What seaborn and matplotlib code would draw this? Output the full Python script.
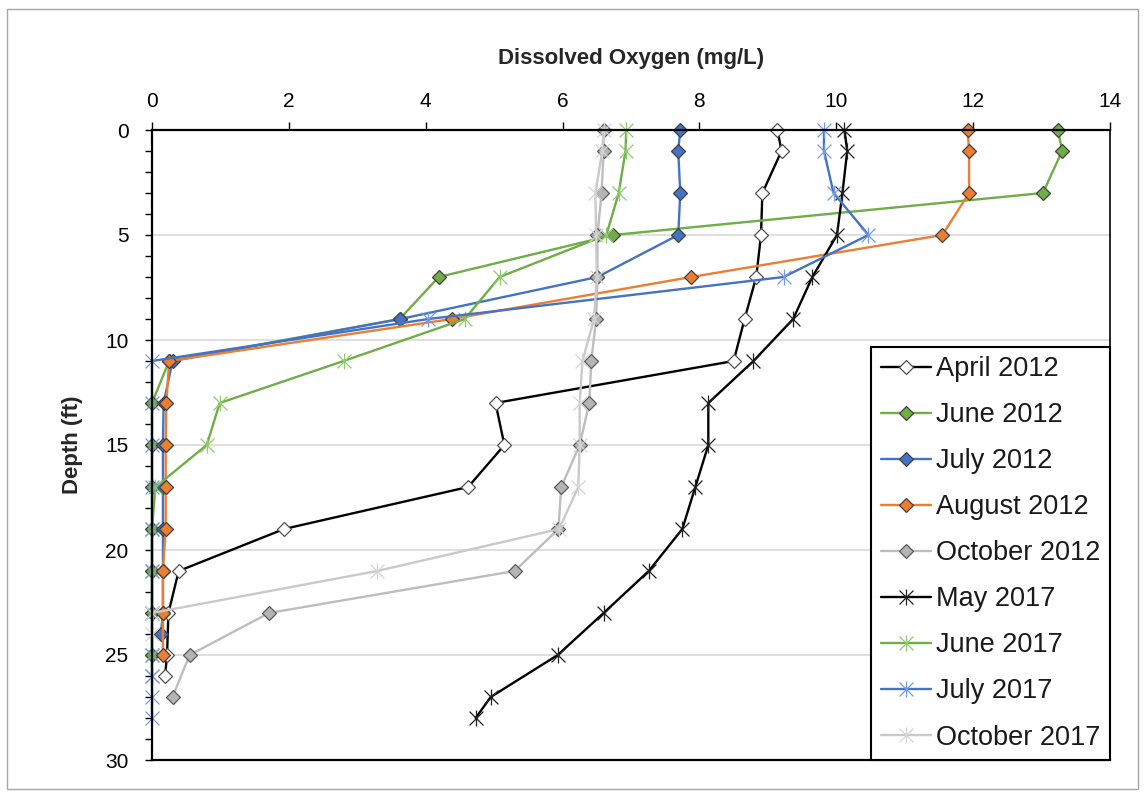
import numpy as np
import pandas as pd
import seaborn as sns
from matplotlib import pyplot as plt
from matplotlib.path import Path
from matplotlib.patches import Rectangle
from matplotlib.ticker import MultipleLocator

# %% Data (depth in ft, DO in mg/L)

DepthApr12 = [0, 1, 3, 5, 7, 9, 11, 13, 15, 17, 19, 21, 23, 25, 26]
DoApr12 = [9.14, 9.20, 8.92, 8.90, 8.83, 8.66, 8.50, 5.02, 5.15, 4.62, 1.93, 0.39, 0.24, 0.22, 0.19]

DepthJun12 = [0, 1, 3, 5, 7, 9, 11, 13, 15, 17, 19, 21, 23, 25]
DoJun12 = [13.24, 13.30, 13.02, 6.74, 4.19, 3.62, 0.25, 0.0, 0.0, 0.0, 0.0, 0.0, 0.0, 0.0]

DepthJul12 = [0, 1, 3, 5, 7, 9, 11, 13, 15, 17, 19, 21, 23, 24]
DoJul12 = [7.72, 7.69, 7.72, 7.69, 6.51, 3.63, 0.30, 0.17, 0.16, 0.16, 0.16, 0.16, 0.16, 0.13]

DepthAug12 = [0, 1, 3, 5, 7, 9, 11, 13, 15, 17, 19, 21, 23, 25]
DoAug12 = [11.92, 11.94, 11.94, 11.55, 7.88, 4.38, 0.25, 0.21, 0.20, 0.20, 0.20, 0.16, 0.16, 0.16]

DepthOct12 = [0, 1, 3, 5, 7, 9, 11, 13, 15, 17, 19, 21, 23, 25, 27]
DoOct12 = [6.60, 6.60, 6.57, 6.51, 6.51, 6.49, 6.42, 6.39, 6.25, 5.98, 5.94, 5.30, 1.71, 0.55, 0.30]

DepthMay17 = [0, 1, 3, 5, 7, 9, 11, 13, 15, 17, 19, 21, 23, 25, 27, 28]
DoMay17 = [10.12, 10.16, 10.09, 10.01, 9.65, 9.37, 8.79, 8.13, 8.13, 7.94, 7.75, 7.26, 6.60, 5.93, 4.95, 4.73]

DepthJun17 = [0, 1, 3, 5, 7, 9, 11, 13, 15, 17, 19, 21, 23, 25, 26]
DoJun17 = [6.93, 6.92, 6.82, 6.64, 5.08, 4.57, 2.80, 0.99, 0.80, 0.05, 0.0, 0.0, 0.0, 0.0, 0.0]

DepthJul17 = [0, 1, 3, 5, 7, 9, 11, 13, 15, 17, 19, 21, 23, 25, 26, 27, 28]
DoJul17 = [9.82, 9.82, 9.96, 10.47, 9.23, 4.04, 0.0, 0.0, 0.0, 0.0, 0.0, 0.0, 0.0, 0.0, 0.0, 0.0, 0.0]

DepthOct17 = [0, 1, 3, 5, 7, 9, 11, 13, 15, 17, 19, 21, 23, 24]
DoOct17 = [6.60, 6.58, 6.48, 6.49, 6.50, 6.46, 6.29, 6.25, 6.25, 6.23, 5.95, 3.29, 0.0, 0.0]

SeriesNames = ['April 2012', 'June 2012', 'July 2012', 'August 2012', 'October 2012',
               'May 2017', 'June 2017', 'July 2017', 'October 2017']

# %% Styles (excel-like)

# asterisk marker: an X with a vertical bar
Asterisk = Path([(-1, -1), (1, 1), (-1, 1), (1, -1), (0, -1.15), (0, 1.15)],
                [Path.MOVETO, Path.LINETO, Path.MOVETO, Path.LINETO, Path.MOVETO, Path.LINETO])

DiamondKw = {'marker': 'D', 'markersize': 7.3, 'markeredgewidth': 0.9, 'markeredgecolor': '#404040'}
StarKw = {'marker': Asterisk, 'markersize': 11.5, 'markeredgewidth': 0.9, 'markerfacecolor': 'none'}

SeriesStyle = {
    'April 2012': dict(DiamondKw, color='black', markerfacecolor='white', markeredgecolor='#505050'),
    'June 2012': dict(DiamondKw, color='#70AD47', markerfacecolor='#70AD47'),
    'July 2012': dict(DiamondKw, color='#4472C4', markerfacecolor='#4472C4'),
    'August 2012': dict(DiamondKw, color='#ED7D31', markerfacecolor='#ED7D31'),
    'October 2012': dict(DiamondKw, color='#BDBDBD', markerfacecolor='#B4B4B4', markeredgecolor='#5a5a5a'),
    'May 2017': dict(StarKw, color='black', markeredgecolor='#202020'),
    'June 2017': dict(StarKw, color='#70AD47', markeredgecolor='#8FCB6E'),
    'July 2017': dict(StarKw, color='#4472C4', markeredgecolor='#7399E0'),
    'October 2017': dict(StarKw, color='#C9C9C9', markeredgecolor='#D4D4D4'),
}

SeriesData = {
    'April 2012': (DoApr12, DepthApr12),
    'June 2012': (DoJun12, DepthJun12),
    'July 2012': (DoJul12, DepthJul12),
    'August 2012': (DoAug12, DepthAug12),
    'October 2012': (DoOct12, DepthOct12),
    'May 2017': (DoMay17, DepthMay17),
    'June 2017': (DoJun17, DepthJun17),
    'July 2017': (DoJul17, DepthJul17),
    'October 2017': (DoOct17, DepthOct17),
}

sns.set_style('white')
plt.rcParams['font.family'] = ['Liberation Sans', 'DejaVu Sans']

# %% Plot

fig = plt.figure(figsize=(11.45, 7.97), dpi=100)
ax = fig.add_axes([152 / 1145, 1 - 760 / 797, 958 / 1145, 630 / 797])

for name in SeriesNames:
    xs, ys = SeriesData[name]
    dfS = pd.DataFrame({'DO': xs, 'Depth': ys})
    sns.lineplot(data=dfS, x='DO', y='Depth', sort=False, estimator=None,
                 ax=ax, linewidth=1.7, label=name, clip_on=False, **SeriesStyle[name])

ax.set_xlim(0, 14)
ax.set_ylim(30, 0)
ax.xaxis.tick_top()
ax.xaxis.set_label_position('top')
ax.xaxis.set_major_locator(MultipleLocator(2))
ax.yaxis.set_major_locator(MultipleLocator(5))
ax.yaxis.set_minor_locator(MultipleLocator(1))
ax.tick_params(axis='x', which='major', direction='out', length=5.5, width=1,
               pad=8, labelsize=15, colors='black', top=True, bottom=False)
ax.tick_params(axis='y', which='both', direction='out', length=5, width=1,
               pad=12, labelsize=15, colors='black', left=True)

ax.set_axisbelow(True)
ax.yaxis.grid(True, which='major', color='#D9D9D9', linewidth=1.2)
ax.xaxis.grid(False)

for side in ['top', 'left', 'bottom']:
    ax.spines[side].set_color('black')
    ax.spines[side].set_linewidth(1.6)
ax.spines['right'].set_color('black')
ax.spines['right'].set_linewidth(1.2)

ax.set_xlabel('Dissolved Oxygen (mg/L)', fontsize=16, fontweight='bold', labelpad=20)
ax.set_ylabel('Depth (ft)', fontsize=16, fontweight='bold', labelpad=16)

leg = ax.legend(loc='lower right', bbox_to_anchor=(1, 0), borderaxespad=0,
                fancybox=False, framealpha=1, edgecolor='black', fontsize=19.5,
                handlelength=1.85, handletextpad=0.2, labelspacing=0.74, borderpad=0.35)
leg.get_frame().set_linewidth(1.5)
leg.set_zorder(5)
for t in leg.get_texts():
    t.set_color('#1a1a1a')

# chart area border
fig.patches.append(Rectangle((7 / 1145, 1 - 789 / 797), 1131 / 1145, 780 / 797,
                             transform=fig.transFigure, fill=False,
                             edgecolor='#A6A6A6', linewidth=1))

fig.savefig('out.png', dpi=100)
